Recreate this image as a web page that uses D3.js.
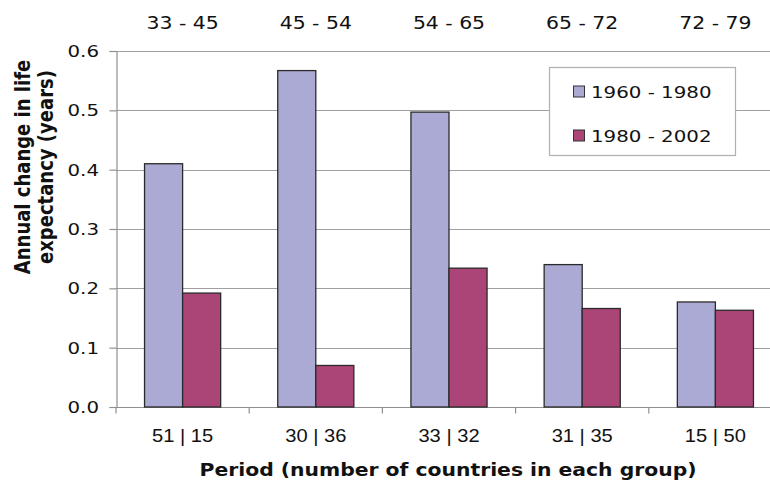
<!DOCTYPE html>
<html>
<head>
<meta charset="utf-8">
<script src="https://cdn.jsdelivr.net/npm/d3@7"></script>
<style>
  html, body { margin: 0; padding: 0; background: #fff; }
  svg { display: block; }
</style>
</head>
<body>
<svg id="chart" width="770" height="480"></svg>
<script>
// Life-expectancy bands (top) and country counts per band (bottom)
const ranges = ["33 - 45", "45 - 54", "54 - 65", "65 - 72", "72 - 79"];
const counts = ["51 | 15", "30 | 36", "33 | 32", "31 | 35", "15 | 50"];
const seriesNames = ["1960 - 1980", "1980 - 2002"];
const values1960 = [0.410, 0.567, 0.497, 0.240, 0.177];
const values1980 = [0.192, 0.070, 0.234, 0.166, 0.163];
const yTicks = [0, 0.1, 0.2, 0.3, 0.4, 0.5, 0.6];

const colors = ["#aaaad4", "#ab4578"];
const sx = 1.2; // horizontal text stretch

const svg = d3.select("#chart");
const plot = { left: 116, right: 782, top: 51, bottom: 407 };

const x0 = d3.scaleBand().domain(d3.range(ranges.length))
  .range([plot.left, plot.right]).paddingInner(0).paddingOuter(0);
const x1 = d3.scaleBand().domain([0, 1])
  .range([0, x0.bandwidth()]).paddingInner(0).paddingOuter(0.75);
const y = d3.scaleLinear().domain([0, 0.6]).range([plot.bottom, plot.top]);

function stretchedText(g, x, yy, txt, opts) {
  const scale = opts.sy ? `scale(1,${opts.sy})` : `scale(${opts.sx || sx},1)`;
  return g.append("text")
    .attr("transform", `translate(${x},${yy}) ${scale}`)
    .attr("text-anchor", opts.anchor || "middle")
    .attr("font-family", opts.family || "DejaVu Sans, Verdana, sans-serif")
    .attr("font-size", opts.size)
    .attr("font-weight", opts.weight || "normal")
    .attr("fill", "#111")
    .text(txt);
}

// Gridlines
svg.append("g").selectAll("line").data(yTicks.slice(1)).join("line")
  .attr("x1", plot.left).attr("x2", plot.right)
  .attr("y1", d => Math.round(y(d)) + 0.5).attr("y2", d => Math.round(y(d)) + 0.5)
  .attr("stroke", "#a0a0a0").attr("stroke-width", 1.2);

// Y axis
const yAxis = svg.append("g")
  .attr("transform", `translate(${plot.left + 0.5},0)`)
  .call(d3.axisLeft(y).tickValues(yTicks).tickSize(7).tickFormat(""));
yAxis.select(".domain").attr("stroke", "#909090").attr("stroke-width", 1.2);
yAxis.selectAll(".tick line").attr("stroke", "#909090").attr("stroke-width", 1.2);

yTicks.forEach(t => {
  stretchedText(svg, 99, y(t) + 6, d3.format(".1f")(t), { size: 16.5, anchor: "end" });
});

// X axis with category boundary ticks
const xAxis = svg.append("g")
  .attr("transform", `translate(0,${plot.bottom + 0.5})`);
xAxis.append("line").attr("x1", plot.left).attr("x2", plot.right)
  .attr("stroke", "#909090").attr("stroke-width", 1.2);
xAxis.selectAll("line.tk").data(d3.range(ranges.length + 1)).join("line")
  .attr("class", "tk")
  .attr("x1", i => plot.left + i * x0.bandwidth())
  .attr("x2", i => plot.left + i * x0.bandwidth())
  .attr("y1", 0).attr("y2", 6)
  .attr("stroke", "#909090").attr("stroke-width", 1.2);

// Bars
const groups = svg.append("g").selectAll("g").data(d3.range(ranges.length)).join("g")
  .attr("transform", i => `translate(${x0(i)},0)`);
groups.selectAll("rect")
  .data(i => [values1960[i], values1980[i]])
  .join("rect")
  .attr("x", (d, j) => x1(j))
  .attr("y", d => y(d))
  .attr("width", x1.bandwidth())
  .attr("height", d => y(0) - y(d))
  .attr("fill", (d, j) => colors[j])
  .attr("stroke", "#2a2a2a")
  .attr("stroke-width", 1.3);

// Category labels: top bands and bottom counts
ranges.forEach((r, i) => {
  const cx = x0(i) + x0.bandwidth() / 2;
  stretchedText(svg, cx, 29, r, { size: 17 });
  stretchedText(svg, cx, 442, counts[i], { size: 17.5, family: "Liberation Sans, Arial, sans-serif", sx: 1.15 });
});

// Axis titles
const yt = svg.append("g").attr("transform", "translate(0,167) rotate(-90)");
stretchedText(yt, 0, 30, "Annual change in life", { size: 18, weight: "bold", sy: 1.2 });
stretchedText(yt, 0, 53, "expectancy (years)", { size: 18, weight: "bold", sy: 1.2 });
stretchedText(svg, 448, 476, "Period (number of countries in each group)", { size: 18, weight: "bold", sx: 1.13 });

// Legend
const lg = svg.append("g");
lg.append("rect").attr("x", 549.5).attr("y", 67.5).attr("width", 186).attr("height", 88)
  .attr("fill", "#fff").attr("stroke", "#b0b0b0").attr("stroke-width", 1.2);
seriesNames.forEach((name, j) => {
  const by = 97.5 + j * 44;
  lg.append("rect").attr("x", 573.5).attr("y", by - 11.5).attr("width", 11).attr("height", 11)
    .attr("fill", colors[j]).attr("stroke", "#333").attr("stroke-width", 1);
  stretchedText(lg, 591, by, name, { size: 16.5, anchor: "start" });
});
</script>
</body>
</html>
